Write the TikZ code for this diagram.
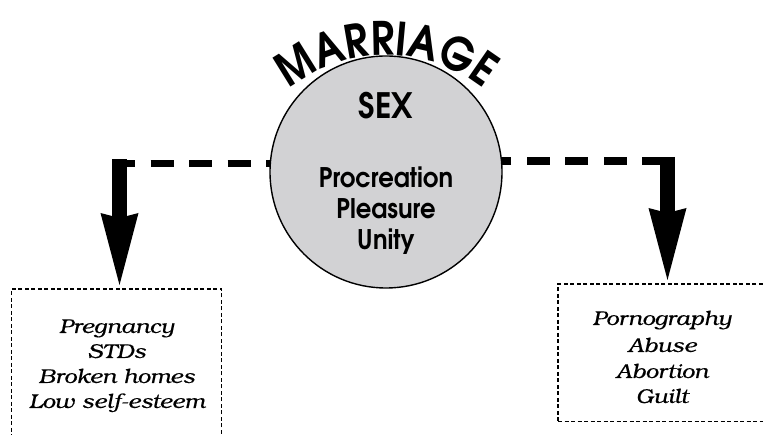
\documentclass[tikz,border=0pt]{standalone}
\usepackage{fontspec}
\usetikzlibrary{arrows.meta,decorations.text}
\newfontfamily\advnarrow[FakeStretch=0.9]{TeX Gyre Adventor}
\newfontfamily\advmar[FakeStretch=0.88]{TeX Gyre Adventor}
\newfontfamily\bonwide[FakeStretch=1.15,FakeBold=0.4]{TeX Gyre Bonum}
\definecolor{discgray}{RGB}{210,210,212}
\begin{document}
\begin{tikzpicture}[x=1pt,y=1pt,
  dashedline/.style={line width=7.5pt, dash pattern=on 23pt off 15.5pt},
  shaft/.style={line width=15pt, -{Stealth[length=72pt,width=38pt,inset=5pt,line width=0pt]}},
  disc/.style={circle, fill=discgray, draw=black, line width=1.4pt, minimum size=232pt, inner sep=0pt},
  outbox/.style={draw, line width=1.3pt, dash pattern=on 4pt off 2.5pt, inner sep=0pt},
  boxtext/.style={font=\bonwide\itshape\fontsize{20}{25}\selectfont, anchor=base, inner sep=0pt},
  disctext/.style={font=\advnarrow\bfseries\fontsize{27}{31}\selectfont, anchor=base, inner sep=0pt}
]
\useasboundingbox (0,0) rectangle (763,435);
\clip (0,0) rectangle (763,435);
% centre of the disc
\coordinate (c) at (386,263);
% left connector
\coordinate (lc) at (112,271.5);
\coordinate (ltop) at (119.5,275.5);
\coordinate (ltip) at (119.5,150);
% right connector
\coordinate (rc) at (665,274);
\coordinate (rtop) at (667.5,278);
\coordinate (rtip) at (667.5,155);
\draw[dashedline] (lc) -- (lc -| c);
\draw[dashedline] (rc) -- (rc -| c);
\draw[shaft] (ltop) -- (ltip);
\draw[shaft] (rtop) -- (rtip);
% disc
\node[disc] (disc) at (c) {};
\path[decorate, decoration={text along path, text align=center,
  text={|\advmar\bfseries\fontsize{46}{46}\selectfont|MARRIAGE}}]
  (386,224) ++(140:156) arc[start angle=140, end angle=40, radius=156];
\node[font=\advnarrow\bfseries\fontsize{35}{35}\selectfont, inner sep=0pt] (sex) at (386,329.5) {SEX};
\node[disctext] (t1) at (386,247) {Procreation};
\node[disctext] (t2) at (386,216) {Pleasure};
\node[disctext] (t3) at (386,185) {Unity};
% boxes
\node[outbox, minimum width=210pt, minimum height=156pt] (lbox) at (116.7,68) {};
\node[outbox, minimum width=209pt, minimum height=137.7pt] (rbox) at (662.5,82.15) {};
\node[boxtext] (l1) at (116.7,102) {Pregnancy};
\node[boxtext] (l2) at (116.7,77) {STDs};
\node[boxtext] (l3) at (116.7,52) {Broken homes};
\node[boxtext] (l4) at (116.7,27) {Low self-esteem};
\node[boxtext] (r1) at (662,110) {Pornography};
\node[boxtext] (r2) at (662,83) {Abuse};
\node[boxtext] (r3) at (662,57) {Abortion};
\node[boxtext] (r4) at (662,32) {Guilt};
\end{tikzpicture}
\end{document}
